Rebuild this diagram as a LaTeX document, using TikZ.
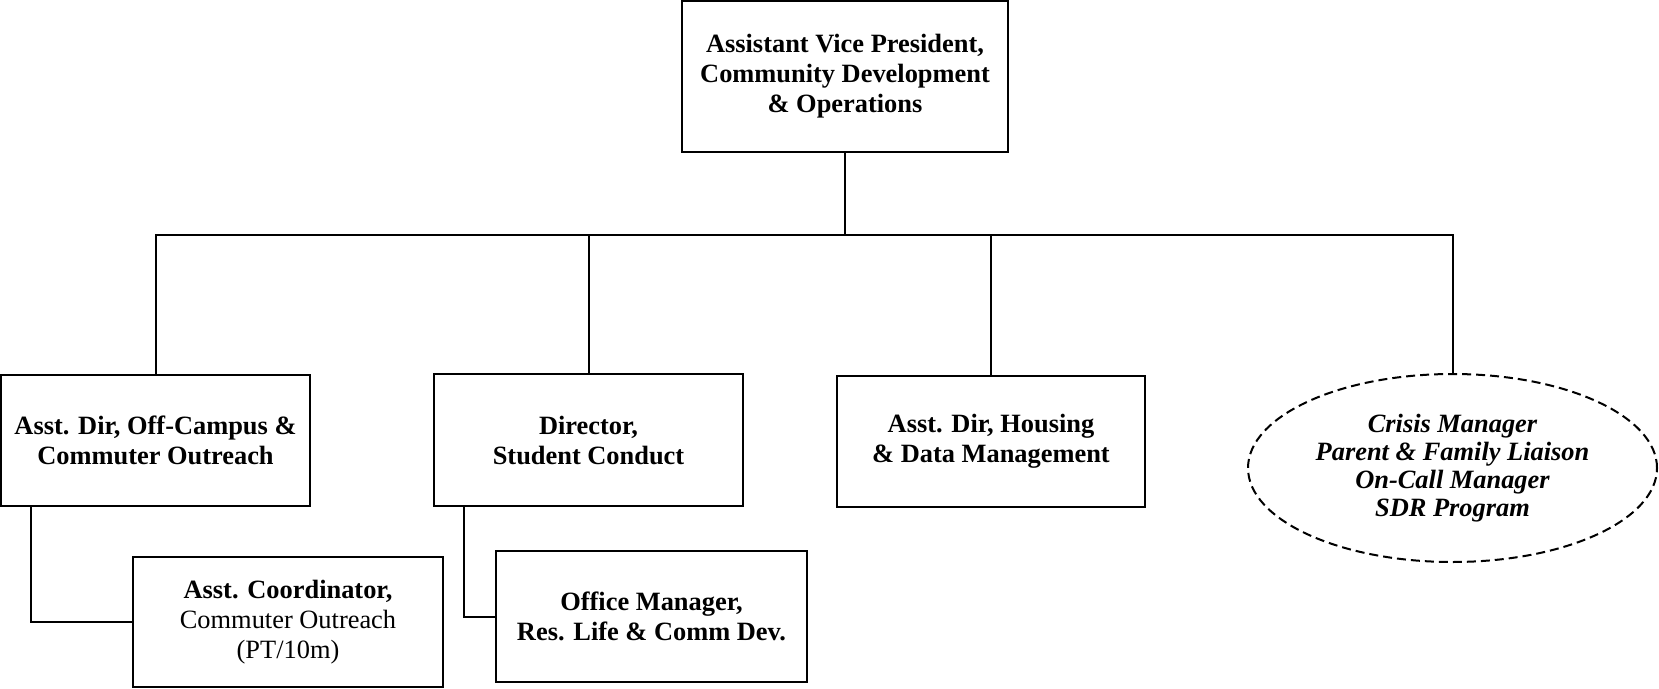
\documentclass[tikz,border=0pt]{standalone}
\usepackage{fontspec}
\setmainfont{Liberation Serif}
\usetikzlibrary{shapes.geometric}
\begin{document}
\begin{tikzpicture}[x=1pt,y=-1pt,
  box/.style={draw, line width=2.4pt, rectangle, inner sep=0pt, align=center,
    font=\fontsize{26.4}{30}\selectfont\bfseries},
  conn/.style={line width=2pt},
  oval/.style={draw, ellipse, dash pattern=on 9pt off 5pt, line width=2pt, inner sep=0pt,
    align=center, font=\fontsize{26.4}{28}\selectfont\bfseries\itshape}]
\useasboundingbox (0,0) rectangle (1659,688);

\node[box, minimum width=326pt, minimum height=151pt] (top) at (845,76.5)
  {Assistant Vice President,\\Community Development\\\& Operations};

\node[box, minimum width=309pt, minimum height=131pt] (offc) at (155.5,440.5)
  {Asst. Dir, Off-Campus \&\\Commuter Outreach};
\node[box, minimum width=309pt, minimum height=132pt] (dir) at (588.5,440)
  {Director,\\Student Conduct};
\node[box, minimum width=308pt, minimum height=131pt] (hous) at (991,441.5)
  {Asst. Dir, Housing\\\& Data Management};
\node[oval, minimum width=409pt, minimum height=188pt] (crisis) at (1452.5,468)
  {Crisis Manager\\Parent \& Family Liaison\\On-Call Manager\\SDR Program};

\node[box, minimum width=310pt, minimum height=130pt] (coord) at (288,622)
  {Asst. Coordinator,\\\mdseries Commuter Outreach\\\mdseries (PT/10m)};
\node[box, minimum width=311pt, minimum height=131pt] (office) at (651.5,616.5)
  {Office Manager,\\Res. Life \& Comm Dev.};

\coordinate (bus) at (845,234.5);
\draw[conn] (top.south) -- (bus);
\draw[conn] (offc.north) |- (bus);
\draw[conn] (dir.north) |- (bus);
\draw[conn] (hous.north) |- (bus);
\draw[conn] (crisis.north) |- (bus);

\draw[conn] ([xshift=31pt]offc.south west) |- (coord.west);
\draw[conn] ([xshift=31pt]dir.south west) |- (office.west);
\end{tikzpicture}
\end{document}
